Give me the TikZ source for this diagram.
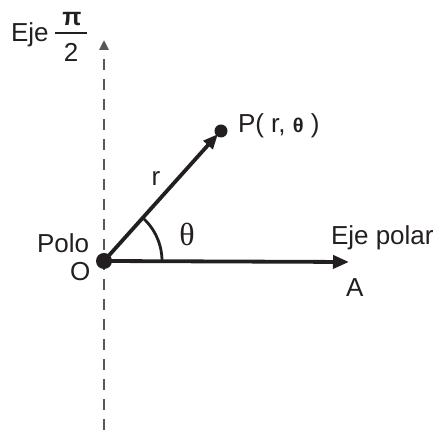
\documentclass[tikz,border=0pt]{standalone}
\usepackage{fontspec}
\setmainfont{Liberation Sans}
\newfontfamily\serifgr{Liberation Serif}
\usetikzlibrary{arrows.meta}
\definecolor{ink}{HTML}{231F20}
\tikzset{
  lbl/.style={inner sep=0pt,outer sep=0pt,text=ink,font=\fontsize{26}{30}\selectfont},
  axisline/.style={line width=3.8pt,draw=ink},
  dashaxis/.style={line width=2.6pt,draw=ink!75,dash pattern=on 11pt off 9pt},
  dotstyle/.style={circle,fill=ink,inner sep=0pt}
}
\begin{document}
\begin{tikzpicture}[x=1pt,y=1pt]
\useasboundingbox (0,0) rectangle (442,433);
\coordinate (O) at (104,172);
\coordinate (Abot) at (104,3);
\coordinate (Atop) at (104,393);
\coordinate (Aend) at (349,171);
\coordinate (P) at (221,302);
\coordinate (Ptip) at (218,299);
\coordinate (barL) at (55,400);
\coordinate (barR) at (87,400);
% vertical dashed axis
\draw[dashaxis,-{Triangle[length=10pt,width=9pt]}] (Abot) -- (Atop);
% polar axis
\draw[axisline,-{Triangle[length=16pt,width=13pt]}] (O) -- (Aend);
% radius vector
\draw[axisline,-{Triangle[length=15pt,width=12pt]}] (O) -- (Ptip);
% angle arc
\draw[line width=2.8pt,draw=ink] ([xshift=58pt]O) arc[start angle=0,end angle=48,radius=58];
% dots
\node[dotstyle,minimum size=16pt] (Odot) at (O) {};
\node[dotstyle,minimum size=13pt] (Pdot) at (P) {};
% labels
\node[lbl,anchor=base west] (eje) at (11,391) {Eje};
\node[lbl,anchor=base,font=\fontsize{25}{30}\selectfont\bfseries] (pinum) at (72,407) {π};
\draw[line width=2.6pt,draw=ink] (barL) -- (barR);
\node[lbl,anchor=base] (twoden) at (71,371) {2};
\node[lbl,anchor=base west] (plabel) at (238,300) {P( r, {\fontsize{20}{20}\selectfont\bfseries θ} )};
\node[lbl,anchor=base] (rlabel) at (156,247) {r};
\node[lbl,font=\fontsize{32}{34}\selectfont\serifgr] (theta) at (187,199) {θ};
\node[lbl,anchor=base west] (polo) at (37,180) {Polo};
\node[lbl,anchor=base west] (olabel) at (70,152) {O};
\node[lbl,anchor=base west] (ejepolar) at (331,188) {Eje polar};
\node[lbl,anchor=base west] (alabel) at (346,136) {A};
\end{tikzpicture}
\end{document}
